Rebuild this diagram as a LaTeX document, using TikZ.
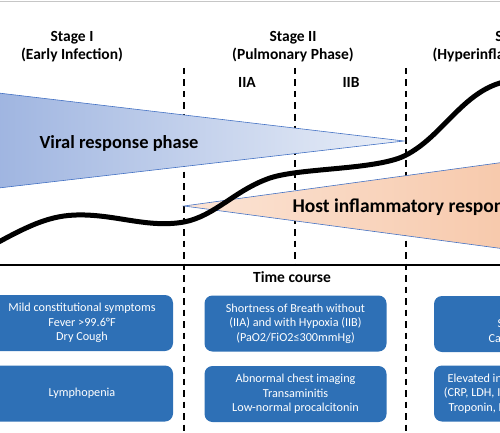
\documentclass[tikz,border=0pt]{standalone}
\usepackage{fontspec}
\setmainfont{Carlito}
\definecolor{boxblue}{RGB}{46,112,182}
\definecolor{viralleft}{RGB}{158,180,224}
\definecolor{viralright}{RGB}{234,239,248}
\definecolor{hostleft}{RGB}{251,228,213}
\definecolor{hostright}{RGB}{247,200,170}
\definecolor{edgeblue}{RGB}{68,114,196}
\begin{document}
\begin{tikzpicture}[x=1pt,y=-1pt,
		stagelabel/.style={align=center,font=\fontsize{15.5}{18}\selectfont\bfseries},
		phaselabel/.style={font=\fontsize{18.5}{21}\selectfont\bfseries},
		infobox/.style={fill=boxblue,rounded corners=8pt,text=white,align=center,minimum width=182pt,minimum height=56pt,font=\fontsize{12.2}{14.5}\selectfont},
		stagedivider/.style={line width=2pt,dash pattern=on 6.5pt off 5pt}]
			\useasboundingbox (0,0) rectangle (500,433);
			\clip (0,0) rectangle (500,433);
			\draw[gray!45, line width=1pt] (0,1.5) -- (500,1.5);
			\draw[stagedivider] (184,68) -- (184,433);
			\draw[stagedivider] (295,68) -- (295,265);
			\draw[stagedivider] (406,68) -- (406,433);
			\draw[left color=viralleft, right color=viralright, draw=edgeblue, line width=0.6pt] (-10,92) -- (404,141) -- (-10,189) -- cycle;
			\draw[left color=hostleft, right color=hostright, draw=edgeblue, line width=0.6pt] (184,206) -- (520,160) -- (520,251) -- cycle;
			\draw[line width=5pt] (-5,244) .. controls (35,222) and (55,214) .. (85,215) .. controls (120,216) and (150,228) .. (184,222) .. controls (215,216) and (235,190) .. (270,178) .. controls (300,168) and (370,170) .. (402,157) .. controls (440,140) and (460,95) .. (500,83) .. controls (520,77) and (540,75) .. (560,75);
			\draw[line width=2.5pt] (0,265) -- (500,265);
			\node[stagelabel] (stage1) at (72,47) {Stage I\\(Early Infection)};
			\node[stagelabel] (stage2) at (293,47) {Stage II\\(Pulmonary Phase)};
			\node[stagelabel] (stage3) at (521,47) {Stage III\\(Hyperinflammation Phase)};
			\node[stagelabel] (sub2a) at (247,82) {IIA};
			\node[stagelabel] (sub2b) at (351,82) {IIB};
			\node[phaselabel] (viral) at (119,143) {Viral response phase};
			\node[phaselabel, anchor=west, font=\fontsize{19.5}{22}\selectfont\bfseries] (host) at (289,207) {Host inflammatory response};
			\node[stagelabel] (time) at (292,277) {Time course};
			\node[infobox] (sym1) at (82,323) {Mild constitutional symptoms\\Fever >99.6°F\\Dry Cough};
			\node[infobox] (lab1) at (82,393.5) {Lymphopenia};
			\node[infobox] (sym2) at (295.5,323.5) {Shortness of Breath without\\(IIA) and with Hypoxia (IIB)\\(PaO2/FiO2≤300mmHg)};
			\node[infobox] (lab2) at (295.5,394) {Abnormal chest imaging\\Transaminitis\\Low-normal procalcitonin};
			\node[infobox] (sym3) at (525,324) {ARDS\\SIRS/Shock\\Cardiac Failure};
			\node[infobox] (lab3) at (525,393.5) {Elevated inflammatory markers\\(CRP, LDH, IL-6, D-dimer, Ferritin)\\Troponin, NT-proBNP elevation};
		\end{tikzpicture}
\end{document}
